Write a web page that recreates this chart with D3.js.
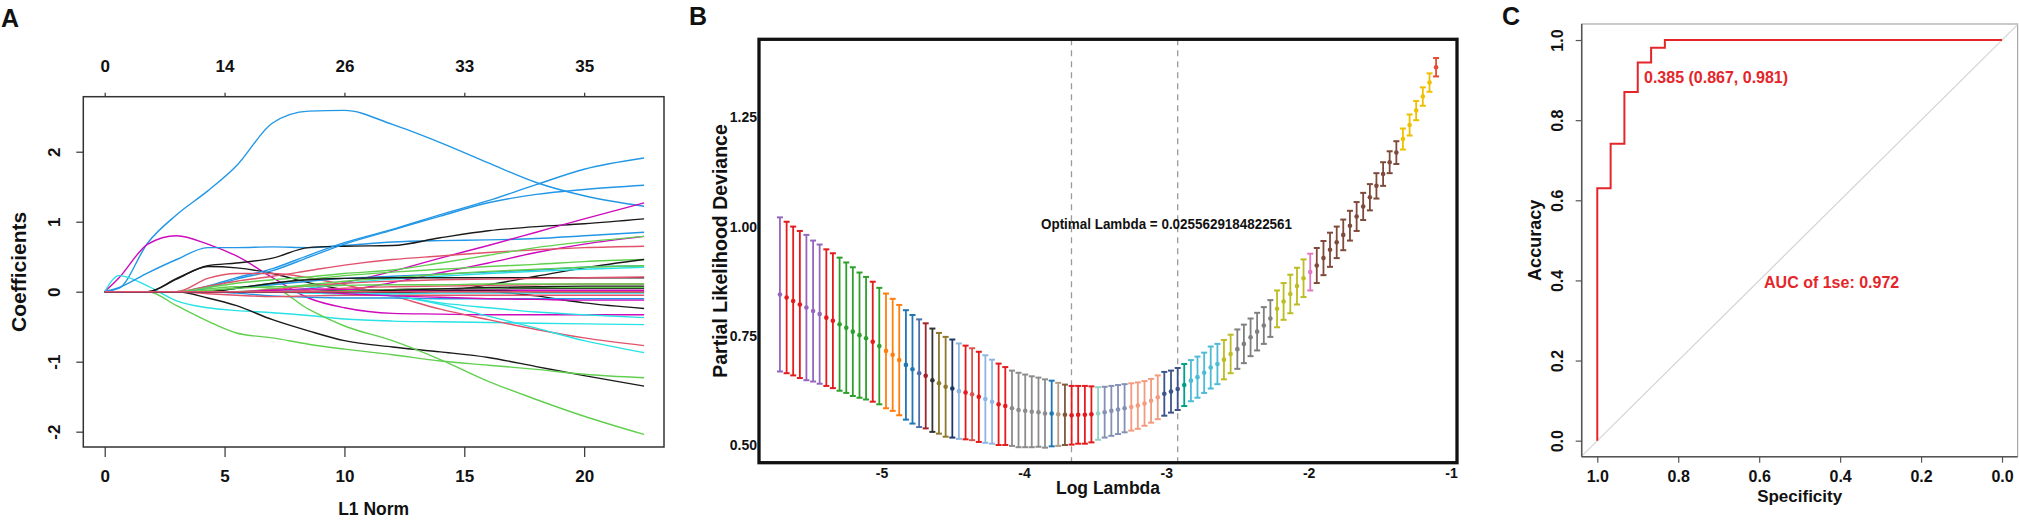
<!DOCTYPE html>
<html>
<head>
<meta charset="utf-8">
<script src="https://cdn.jsdelivr.net/npm/d3@7"></script>
<style>
  body { margin: 0; background: #fff; }
  svg text { font-family: "Liberation Sans", Arial, Helvetica, sans-serif; font-weight: bold; fill: #111; }
</style>
</head>
<body>
<svg id="fig" width="2019" height="522"></svg>
<script>
// ---------- panel A: lasso coefficient paths ----------
const l1Norm = [0, 0.6, 1.8, 3, 4.3, 5.5, 7, 8.5, 10, 12, 14, 16, 18, 20, 22.5];
const l1Ticks = [0, 5, 10, 15, 20];
const dfLabels = [0, 14, 26, 33, 35];
const coefTicks = [-2, -1, 0, 1, 2];
const coefPaths = [
  [0, 0.05, 0.70, 1.10, 1.44, 1.80, 2.41, 2.58, 2.59, 2.39, 2.13, 1.84, 1.56, 1.37, 1.22],
  [0, 0.20, 0.68, 0.80, 0.68, 0.51, 0.20, -0.09, -0.23, -0.31, -0.32, -0.33, -0.33, -0.33, -0.33],
  [0, 0.23, 0.08, -0.13, -0.23, -0.27, -0.30, -0.34, -0.39, -0.42, -0.43, -0.44, -0.45, -0.46, -0.47],
  [0, 0.06, 0.27, 0.46, 0.63, 0.63, 0.64, 0.63, 0.66, 0.71, 0.73, 0.74, 0.76, 0.80, 0.85],
  [0, 0, 0, 0.19, 0.37, 0.41, 0.48, 0.63, 0.65, 0.66, 0.77, 0.87, 0.93, 0.97, 1.04],
  [0, 0, 0, 0.18, 0.36, 0.34, 0.26, 0.13, 0.03, -0.01, 0, 0, -0.06, -0.16, -0.24],
  [0, 0, 0, 0, -0.09, -0.20, -0.40, -0.56, -0.70, -0.79, -0.86, -0.94, -1.07, -1.20, -1.35],
  [0, 0, 0, -0.20, -0.42, -0.59, -0.66, -0.75, -0.82, -0.90, -0.99, -1.05, -1.11, -1.18, -1.23],
  [0, 0, 0, 0, 0.04, 0.07, 0.05, -0.25, -0.49, -0.70, -0.97, -1.28, -1.54, -1.78, -2.04],
  [0, 0, 0, 0, 0.08, 0.20, 0.33, 0.52, 0.70, 0.89, 1.10, 1.30, 1.53, 1.75, 1.91],
  [0, 0, 0, 0, 0.06, 0.18, 0.30, 0.49, 0.68, 0.88, 1.08, 1.27, 1.39, 1.46, 1.52],
  [0, 0, 0, 0, 0, 0, 0, 0.04, 0.13, 0.29, 0.48, 0.66, 0.85, 1.04, 1.27],
  [0, 0, 0, 0, 0, 0, 0, 0, 0.02, 0.13, 0.27, 0.41, 0.56, 0.68, 0.79],
  [0, 0, 0, 0, 0.08, 0.15, 0.22, 0.30, 0.38, 0.46, 0.51, 0.56, 0.60, 0.63, 0.65],
  [0, 0, 0, 0, 0.19, 0.26, 0.26, 0.20, 0.10, -0.06, -0.25, -0.40, -0.54, -0.66, -0.77],
  [0, 0, 0, 0, 0, 0, 0, 0, -0.01, -0.06, -0.18, -0.35, -0.52, -0.70, -0.87],
  [0, 0, 0, 0, 0.06, 0.12, 0.17, 0.21, 0.26, 0.31, 0.41, 0.52, 0.63, 0.71, 0.79],
  [0, 0, 0, 0, 0, 0.05, 0.12, 0.18, 0.23, 0.28, 0.32, 0.36, 0.39, 0.43, 0.46],
  [0, 0, 0, 0, 0, 0, 0, 0, 0, 0, 0.01, 0.10, 0.22, 0.34, 0.46],
  [0, 0, 0, 0, 0, 0.05, 0.10, 0.15, 0.19, 0.22, 0.25, 0.28, 0.31, 0.35, 0.37],
  [0, 0, 0, 0, 0, 0, 0, 0.05, 0.12, 0.18, 0.22, 0.26, 0.29, 0.32, 0.35],
  [0, 0, 0, 0, 0, 0, 0.04, 0.10, 0.15, 0.20, 0.25, 0.29, 0.32, 0.35, 0.37],
  [0, 0, 0, 0, 0, 0.05, 0.12, 0.17, 0.19, 0.20, 0.20, 0.20, 0.20, 0.20, 0.20],
  [0, 0, 0, 0, 0, 0, 0.03, 0.08, 0.12, 0.15, 0.17, 0.18, 0.19, 0.20, 0.21],
  [0, 0, 0, 0, 0, 0, 0, 0.02, 0.05, 0.07, 0.08, 0.09, 0.10, 0.11, 0.11],
  [0, 0, 0, 0, 0.02, 0.05, 0.07, 0.08, 0.09, 0.10, 0.10, 0.11, 0.11, 0.11, 0.11],
  [0, 0, 0, 0, 0, 0, 0, 0, 0.02, 0.03, 0.04, 0.04, 0.05, 0.05, 0.05],
  [0, 0, 0, 0, 0, -0.02, -0.06, -0.08, -0.09, -0.09, -0.10, -0.10, -0.10, -0.10, -0.10],
  [0, 0, 0, 0, -0.03, -0.05, -0.07, -0.06, -0.05, -0.05, -0.05, -0.05, -0.05, -0.05, -0.05],
  [0, 0, 0, 0, 0, 0, 0, 0, 0, -0.06, -0.16, -0.23, -0.29, -0.33, -0.37],
  [0, 0, 0, 0, 0, 0, 0.02, 0.04, 0.03, 0.02, 0.02, 0.02, 0.02, 0.02, 0.02],
  [0, 0, 0, 0, 0, 0, 0, -0.02, -0.03, -0.03, -0.02, -0.02, -0.02, -0.02, -0.02],
  [0, 0, 0, 0, 0, 0, 0, 0, 0.01, 0.03, 0.04, 0.05, 0.06, 0.06, 0.06],
  [0, 0, 0, 0, 0, 0, 0, 0, 0, 0.02, 0.04, 0.06, 0.07, 0.08, 0.08],
  [0, 0, 0, 0, 0, 0, 0, 0, -0.03, -0.06, -0.08, -0.10, -0.11, -0.12, -0.12],
  [0, 0, 0, 0, 0, 0, 0, 0, 0, 0, 0.01, 0.01, 0, 0, 0],
  [0, 0, 0, 0, 0, 0, 0, 0, 0, 0, 0, 0, 0, 0, 0]
];
// matplot default colours (R 4 palette, 1:6)
const rBlack = '#1a1a1a', rRed = '#DF536B', rGreen = '#61D04F',
      rBlue = '#2297E6', rCyan = '#28E2E5', rMagenta = '#CD0BBC';
const pathColors = [
  rBlue, rMagenta, rCyan, rBlue, rBlack, rBlack, rBlack, rGreen, rGreen, rBlue,
  rBlue, rMagenta, rMagenta, rRed, rRed, rCyan, rGreen, rGreen, rBlack, rBlue,
  rCyan, rGreen, rBlack, rRed, rRed, rGreen, rBlack, rBlue, rRed, rCyan,
  rMagenta, rCyan, rGreen, rBlack, rMagenta, rBlack, rRed
];

// ---------- panel B: cross-validation curve ----------
const cvLogLambda = [
  -5.714, -5.667, -5.621, -5.574, -5.528, -5.481, -5.435, -5.388, -5.342, -5.295,
  -5.248, -5.202, -5.155, -5.109, -5.062, -5.016, -4.969, -4.922, -4.876, -4.829,
  -4.783, -4.736, -4.690, -4.643, -4.597, -4.550, -4.503, -4.457, -4.410, -4.364,
  -4.317, -4.271, -4.224, -4.178, -4.131, -4.084, -4.038, -3.991, -3.945, -3.898,
  -3.852, -3.805, -3.759, -3.712, -3.665, -3.619, -3.572, -3.526, -3.479, -3.433,
  -3.386, -3.339, -3.293, -3.246, -3.200, -3.153, -3.107, -3.060, -3.014, -2.967,
  -2.920, -2.874, -2.827, -2.781, -2.734, -2.688, -2.641, -2.595, -2.548, -2.501,
  -2.455, -2.408, -2.362, -2.315, -2.269, -2.222, -2.176, -2.129, -2.082, -2.036,
  -1.989, -1.943, -1.896, -1.850, -1.803, -1.757, -1.710, -1.663, -1.617, -1.570,
  -1.524, -1.477, -1.431, -1.384, -1.338, -1.291, -1.245, -1.198, -1.151, -1.105
];
const cvMean = [
  0.844, 0.837, 0.829, 0.821, 0.814, 0.806, 0.799, 0.791, 0.784, 0.776,
  0.768, 0.759, 0.751, 0.744, 0.736, 0.726, 0.715, 0.706, 0.694, 0.683,
  0.673, 0.664, 0.658, 0.648, 0.641, 0.633, 0.629, 0.623, 0.620, 0.616,
  0.610, 0.605, 0.599, 0.593, 0.589, 0.584, 0.580, 0.578, 0.576, 0.575,
  0.572, 0.572, 0.570, 0.569, 0.568, 0.569, 0.569, 0.570, 0.572, 0.575,
  0.578, 0.581, 0.584, 0.587, 0.590, 0.595, 0.601, 0.609, 0.617, 0.622,
  0.628, 0.637, 0.647, 0.655, 0.665, 0.677, 0.685, 0.695, 0.708, 0.719,
  0.731, 0.746, 0.759, 0.773, 0.789, 0.811, 0.828, 0.845, 0.863, 0.881,
  0.895, 0.910, 0.927, 0.946, 0.963, 0.980, 1.001, 1.022, 1.045, 1.066,
  1.092, 1.119, 1.146, 1.168, 1.199, 1.231, 1.264, 1.296, 1.328, 1.363
];
const cvSE = [
  0.176, 0.173, 0.170, 0.168, 0.166, 0.161, 0.159, 0.156, 0.154, 0.152,
  0.149, 0.147, 0.143, 0.140, 0.137, 0.133, 0.131, 0.128, 0.126, 0.125,
  0.124, 0.123, 0.120, 0.118, 0.115, 0.114, 0.112, 0.109, 0.107, 0.105,
  0.103, 0.100, 0.096, 0.093, 0.089, 0.086, 0.085, 0.083, 0.081, 0.079,
  0.078, 0.075, 0.072, 0.069, 0.067, 0.066, 0.066, 0.064, 0.060, 0.058,
  0.057, 0.056, 0.055, 0.054, 0.053, 0.051, 0.050, 0.050, 0.050, 0.048,
  0.048, 0.048, 0.047, 0.047, 0.046, 0.048, 0.046, 0.045, 0.044, 0.045,
  0.044, 0.043, 0.043, 0.042, 0.042, 0.042, 0.042, 0.044, 0.042, 0.043,
  0.042, 0.040, 0.039, 0.039, 0.036, 0.035, 0.034, 0.033, 0.031, 0.030,
  0.029, 0.027, 0.025, 0.026, 0.024, 0.024, 0.022, 0.021, 0.021, 0.021
];
const cvColorRuns = [
  ['#9467BD', 1], ['#E41A1C', 3], ['#9467BD', 3], ['#E41A1C', 2], ['#2CA02C', 5],
  ['#E41A1C', 1], ['#2CA02C', 1], ['#FF7F0E', 3], ['#1F77B4', 2], ['#4E6FA8', 1],
  ['#A0242C', 1], ['#333333', 1], ['#8C7A2A', 2], ['#1B3A6B', 1], ['#8DB6E2', 1],
  ['#E41A1C', 1], ['#D9534F', 1], ['#E41A1C', 1], ['#8DB6E2', 2], ['#E41A1C', 2],
  ['#8C8C8C', 6], ['#1F77B4', 1], ['#B09C85', 1], ['#7D5A3C', 1], ['#E41A1C', 4],
  ['#91D1C2', 1], ['#8491B4', 4], ['#F39B7F', 5], ['#3C5488', 3], ['#00A087', 1],
  ['#4DBBD5', 5], ['#BCBD22', 2], ['#7F7F7F', 6], ['#BCBD22', 5], ['#E377C2', 1],
  ['#7E4A3B', 13], ['#EFC000', 5], ['#E64B35', 1]
];
const cvTicksX = [-5, -4, -3, -2, -1];
const cvTicksY = [0.50, 0.75, 1.00, 1.25];
const cvVLines = [-3.666, -2.92];   // log(lambda.min), log(lambda.1se)
const optimalLabel = 'Optimal Lambda = 0.0255629184822561';

// ---------- panel C: ROC ----------
const rocSpecificity = [1, 1, 0.967, 0.967, 0.933, 0.933, 0.9, 0.9, 0.867, 0.867, 0.833, 0.833, 0];
const rocSensitivity = [0, 0.630, 0.630, 0.741, 0.741, 0.870, 0.870, 0.944, 0.944, 0.981, 0.981, 1, 1];
const rocTicks = [0, 0.2, 0.4, 0.6, 0.8, 1.0];
const thresholdLabel = '0.385 (0.867, 0.981)';
const aucLabel = 'AUC of 1se: 0.972';

const svg = d3.select('#fig');

function panelLetter(x, y, txt) {
  svg.append('text').attr('x', x).attr('y', y).style('font-size', '25px').text(txt);
}

// rotate tick labels of a left axis so they read bottom-to-top
function rotateLeftLabels(g, offset, size) {
  g.selectAll('.tick text')
    .attr('x', null).attr('dy', null)
    .attr('text-anchor', 'middle')
    .attr('transform', `translate(${offset},0) rotate(-90)`)
    .style('font-size', size + 'px');
}

function tidyAxis(g, tickColor) {
  g.select('.domain').remove();
  g.selectAll('.tick line').attr('stroke', tickColor).attr('stroke-width', 1.2);
  g.selectAll('.tick text').attr('fill', '#111');
}

// ===== panel A =====
function drawPaths() {
  const box = {x0: 83.3, x1: 664, y0: 96.7, y1: 447};
  const x = d3.scaleLinear().domain([-0.893, 23.33]).range([box.x0, box.x1]);
  const y = d3.scaleLinear().domain([-2.219, 2.786]).range([box.y1, box.y0]);
  const g = svg.append('g');

  const line = d3.line()
    .x((d, i) => x(l1Norm[i]))
    .y(d => y(d))
    .curve(d3.curveMonotoneX);

  g.selectAll('path.coef')
    .data(coefPaths)
    .join('path')
    .attr('class', 'coef')
    .attr('d', line)
    .attr('fill', 'none')
    .attr('stroke', (d, i) => pathColors[i])
    .attr('stroke-width', 1.4);

  g.append('rect')
    .attr('x', box.x0).attr('y', box.y0)
    .attr('width', box.x1 - box.x0).attr('height', box.y1 - box.y0)
    .attr('fill', 'none').attr('stroke', '#333').attr('stroke-width', 1.5);

  const gb = g.append('g').attr('transform', `translate(0,${box.y1})`)
    .call(d3.axisBottom(x).tickValues(l1Ticks).tickSize(10).tickFormat(String));
  tidyAxis(gb, '#333');
  gb.selectAll('.tick text').attr('y', 35).attr('dy', null).style('font-size', '17px');

  const gt = g.append('g').attr('transform', `translate(0,${box.y0})`)
    .call(d3.axisTop(x).tickValues(l1Ticks).tickSize(4).tickFormat((d, i) => dfLabels[i]));
  tidyAxis(gt, '#333');
  gt.selectAll('.tick text').attr('y', -25).attr('dy', null).style('font-size', '17px');

  const gl = g.append('g').attr('transform', `translate(${box.x0},0)`)
    .call(d3.axisLeft(y).tickValues(coefTicks).tickSize(7).tickFormat(String));
  tidyAxis(gl, '#333');
  rotateLeftLabels(gl, -23.3, 17);

  g.append('text').attr('x', (box.x0 + box.x1) / 2).attr('y', 515)
    .attr('text-anchor', 'middle').style('font-size', '17.5px').text('L1 Norm');
  g.append('text')
    .attr('transform', `translate(26,${(box.y0 + box.y1) / 2}) rotate(-90)`)
    .attr('text-anchor', 'middle').style('font-size', '21px').text('Coefficients');

  panelLetter(1, 27, 'A');
}

// ===== panel B =====
function drawCv() {
  const box = {x0: 759, x1: 1457, y0: 39.3, y1: 462.7};
  const x = d3.scaleLinear().domain([-5.861, -0.958]).range([box.x0, box.x1]);
  const y = d3.scaleLinear().domain([0.4596, 1.4268]).range([box.y1, box.y0]);
  const g = svg.append('g');

  const colors = cvColorRuns.flatMap(([c, n]) => d3.range(n).map(() => c));
  const pts = cvLogLambda.map((l, i) => ({l, m: cvMean[i], se: cvSE[i], c: colors[i]}));

  g.selectAll('line.vline')
    .data(cvVLines)
    .join('line')
    .attr('class', 'vline')
    .attr('x1', d => x(d)).attr('x2', d => x(d))
    .attr('y1', box.y0).attr('y2', box.y1)
    .attr('stroke', '#9a9a9a').attr('stroke-width', 1.3)
    .attr('stroke-dasharray', '6,5');

  const bars = g.selectAll('g.bar').data(pts).join('g').attr('class', 'bar');
  bars.append('line')
    .attr('x1', d => x(d.l)).attr('x2', d => x(d.l))
    .attr('y1', d => y(d.m - d.se)).attr('y2', d => y(d.m + d.se))
    .attr('stroke', d => d.c).attr('stroke-width', 1.8);
  bars.selectAll('line.cap')
    .data(d => [d.m - d.se, d.m + d.se].map(v => ({v, l: d.l, c: d.c})))
    .join('line')
    .attr('class', 'cap')
    .attr('x1', d => x(d.l) - 3).attr('x2', d => x(d.l) + 3)
    .attr('y1', d => y(d.v)).attr('y2', d => y(d.v))
    .attr('stroke', d => d.c).attr('stroke-width', 2);
  bars.append('circle')
    .attr('cx', d => x(d.l)).attr('cy', d => y(d.m)).attr('r', 2.3)
    .attr('fill', d => d.c);

  g.append('text')
    .attr('x', x(-3.880)).attr('y', y(0.9935))
    .attr('textLength', 251).attr('lengthAdjust', 'spacingAndGlyphs')
    .style('font-size', '14px').text(optimalLabel);

  g.append('rect')
    .attr('x', box.x0).attr('y', box.y0)
    .attr('width', box.x1 - box.x0).attr('height', box.y1 - box.y0)
    .attr('fill', 'none').attr('stroke', '#111').attr('stroke-width', 3.3);

  const gb = g.append('g').attr('transform', `translate(0,${box.y1})`)
    .call(d3.axisBottom(x).tickValues(cvTicksX).tickSize(0).tickFormat(String));
  tidyAxis(gb, 'none');
  gb.selectAll('.tick text').attr('y', 15.5).attr('dy', null).style('font-size', '14px');

  const gl = g.append('g').attr('transform', `translate(${box.x0},0)`)
    .call(d3.axisLeft(y).tickValues(cvTicksY).tickSize(0).tickFormat(d3.format('.2f')));
  tidyAxis(gl, 'none');
  gl.selectAll('.tick text').attr('x', -2).attr('dy', '0.35em').style('font-size', '14px');

  g.append('text').attr('x', (box.x0 + box.x1) / 2).attr('y', 494)
    .attr('text-anchor', 'middle').style('font-size', '17.5px').text('Log Lambda');
  g.append('text')
    .attr('transform', `translate(727,${(box.y0 + box.y1) / 2}) rotate(-90)`)
    .attr('text-anchor', 'middle').style('font-size', '19.5px').text('Partial Likelihood Deviance');

  panelLetter(689, 25, 'B');
}

// ===== panel C =====
function drawRoc() {
  const box = {x0: 1581.7, x1: 2017.6, y0: 24, y1: 456.7};
  const x = d3.scaleLinear().domain([1.0385, -0.0385]).range([box.x0, box.x1]);
  const y = d3.scaleLinear().domain([-0.04, 1.04]).range([box.y1, box.y0]);
  const g = svg.append('g');
  const red = '#E4262A';

  g.append('rect')
    .attr('x', box.x0).attr('y', box.y0)
    .attr('width', box.x1 - box.x0).attr('height', box.y1 - box.y0)
    .attr('fill', 'none').attr('stroke', '#a8a8a8').attr('stroke-width', 1.2);

  // chance line: sensitivity = 1 - specificity across the plotting region
  const diag = x.domain().map(s => [s, 1 - s]);
  g.append('line')
    .attr('x1', x(diag[0][0])).attr('y1', y(diag[0][1]))
    .attr('x2', x(diag[1][0])).attr('y2', y(diag[1][1]))
    .attr('stroke', '#d4d4d4').attr('stroke-width', 1.2);

  const roc = d3.line().x(d => x(d[0])).y(d => y(d[1]));
  g.append('path')
    .attr('d', roc(d3.zip(rocSpecificity, rocSensitivity)))
    .attr('fill', 'none').attr('stroke', red).attr('stroke-width', 2);

  g.append('text').attr('x', x(0.8846)).attr('y', y(0.893))
    .style('fill', red).style('font-size', '16px').text(thresholdLabel);
  g.append('text').attr('x', x(0.588)).attr('y', y(0.381))
    .style('fill', red).style('font-size', '16px').text(aucLabel);

  const axisCol = '#555';
  g.append('line').attr('x1', box.x0).attr('x2', box.x1).attr('y1', box.y1).attr('y2', box.y1)
    .attr('stroke', axisCol).attr('stroke-width', 1.5);
  g.append('line').attr('x1', box.x0).attr('x2', box.x0).attr('y1', box.y0).attr('y2', box.y1)
    .attr('stroke', axisCol).attr('stroke-width', 1.5);

  const fmt = d3.format('.1f');
  const gb = g.append('g').attr('transform', `translate(0,${box.y1})`)
    .call(d3.axisBottom(x).tickValues(rocTicks).tickSize(6).tickFormat(fmt));
  tidyAxis(gb, axisCol);
  gb.selectAll('.tick text').attr('y', 25.5).attr('dy', null).style('font-size', '16px');

  const gl = g.append('g').attr('transform', `translate(${box.x0},0)`)
    .call(d3.axisLeft(y).tickValues(rocTicks).tickSize(6).tickFormat(fmt));
  tidyAxis(gl, axisCol);
  rotateLeftLabels(gl, -18.5, 16);

  g.append('text').attr('x', (box.x0 + box.x1) / 2).attr('y', 502)
    .attr('text-anchor', 'middle').style('font-size', '17px').text('Specificity');
  g.append('text')
    .attr('transform', `translate(1541,${(box.y0 + box.y1) / 2}) rotate(-90)`)
    .attr('text-anchor', 'middle').style('font-size', '18px').text('Accuracy');

  panelLetter(1502, 25, 'C');
}

drawPaths();
drawCv();
drawRoc();
</script>
</body>
</html>
